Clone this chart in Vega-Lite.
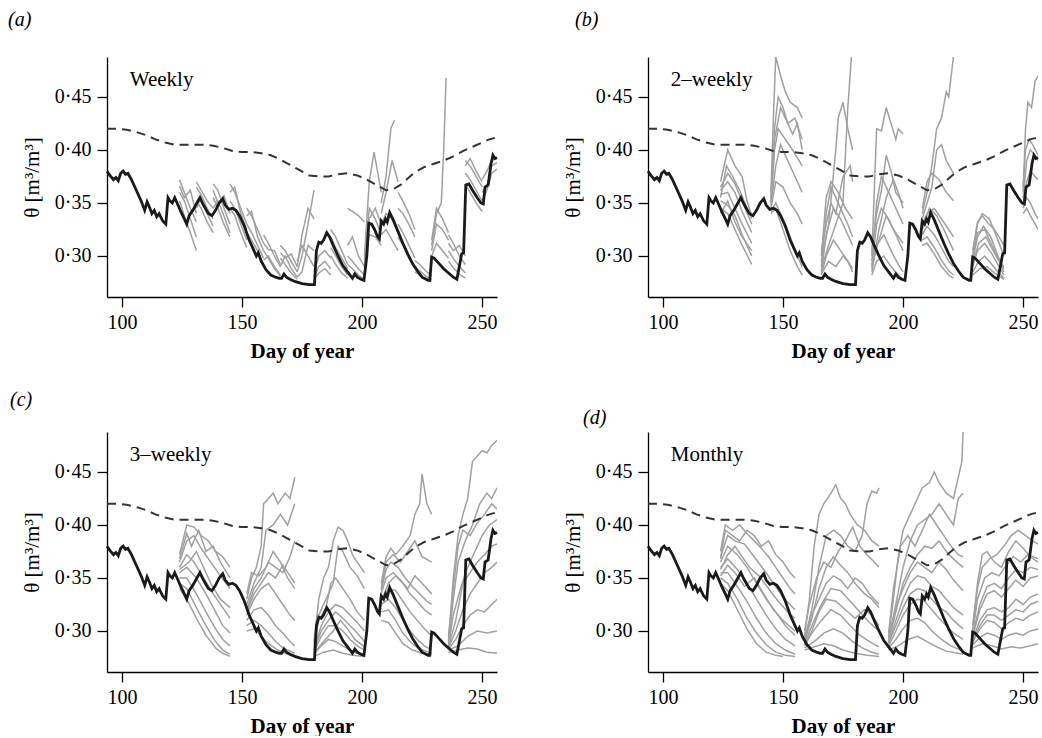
{
"$schema": "https://vega.github.io/schema/vega-lite/v6.json",
"padding": {"left": 8, "top": 10, "right": 0, "bottom": 0},
"bounds": "flush",
"columns": 2,
"spacing": {"row": 135, "column": 151},
"config": {
  "view": {"stroke": null},
  "font": "Liberation Serif",
  "axis": {"domainColor": "black", "domainWidth": 1.3, "tickColor": "black", "tickWidth": 1.3, "tickSize": 10, "labelFont": "Liberation Serif", "labelFontSize": 20, "labelColor": "black", "titleFont": "Liberation Serif", "titleColor": "black", "grid": false, "labelFlush": false},
  "axisX": {"titleFontSize": 21, "titleFontWeight": "bold", "titlePadding": 8, "labelPadding": 5},
  "axisY": {"titleFontSize": 21, "titleFontWeight": "normal", "titlePadding": 12, "labelPadding": 6},
  "title": {"anchor": "start", "frame": "group", "font": "Liberation Serif", "fontSize": 20, "fontStyle": "italic", "fontWeight": "normal", "color": "black"}
},
"datasets": {
"lab": [{"p":"a","d":103.3,"v":0.4604,"t":"Weekly"},{"p":"b","d":103.3,"v":0.4604,"t":"2–weekly"},{"p":"c","d":103.3,"v":0.4604,"t":"3–weekly"},{"p":"d","d":103.3,"v":0.4604,"t":"Monthly"}],
"obs": [{"d":93.8,"v":0.380},{"d":95,"v":0.376},{"d":96.5,"v":0.372},{"d":97.5,"v":0.374},{"d":98.5,"v":0.371},{"d":99.5,"v":0.378},{"d":100.5,"v":0.380},{"d":101.5,"v":0.377},{"d":102.5,"v":0.378},{"d":104,"v":0.372},{"d":106,"v":0.362},{"d":108,"v":0.352},{"d":109.5,"v":0.343},{"d":110.5,"v":0.351},{"d":111.5,"v":0.346},{"d":112.5,"v":0.340},{"d":113.5,"v":0.343},{"d":114.5,"v":0.337},{"d":115.5,"v":0.340},{"d":117,"v":0.333},{"d":118.3,"v":0.330},{"d":119.2,"v":0.355},{"d":120,"v":0.352},{"d":121,"v":0.350},{"d":122,"v":0.355},{"d":123,"v":0.350},{"d":124.5,"v":0.342},{"d":126,"v":0.335},{"d":127,"v":0.330},{"d":128,"v":0.338},{"d":129.5,"v":0.343},{"d":131,"v":0.349},{"d":132.5,"v":0.355},{"d":133.5,"v":0.350},{"d":134.5,"v":0.346},{"d":136,"v":0.340},{"d":137.5,"v":0.338},{"d":139,"v":0.343},{"d":140.5,"v":0.350},{"d":142,"v":0.354},{"d":143,"v":0.348},{"d":144.5,"v":0.344},{"d":146,"v":0.345},{"d":147.5,"v":0.343},{"d":149,"v":0.338},{"d":151,"v":0.328},{"d":153,"v":0.315},{"d":155,"v":0.305},{"d":156,"v":0.300},{"d":156.8,"v":0.303},{"d":158,"v":0.295},{"d":160,"v":0.287},{"d":162,"v":0.282},{"d":164,"v":0.280},{"d":165.5,"v":0.279},{"d":166.5,"v":0.279},{"d":167.5,"v":0.283},{"d":168.5,"v":0.280},{"d":170,"v":0.278},{"d":172,"v":0.276},{"d":175,"v":0.274},{"d":178,"v":0.273},{"d":180.2,"v":0.273},{"d":181,"v":0.305},{"d":182,"v":0.313},{"d":183,"v":0.312},{"d":184,"v":0.315},{"d":185.3,"v":0.322},{"d":186.5,"v":0.318},{"d":188,"v":0.310},{"d":190,"v":0.300},{"d":192,"v":0.291},{"d":194,"v":0.285},{"d":196,"v":0.279},{"d":197,"v":0.283},{"d":198,"v":0.280},{"d":199.5,"v":0.278},{"d":200.8,"v":0.277},{"d":202,"v":0.300},{"d":202.8,"v":0.331},{"d":204,"v":0.330},{"d":205.2,"v":0.325},{"d":206.5,"v":0.318},{"d":207.2,"v":0.316},{"d":208,"v":0.333},{"d":209,"v":0.330},{"d":209.8,"v":0.335},{"d":210.5,"v":0.332},{"d":211.5,"v":0.341},{"d":213,"v":0.334},{"d":215,"v":0.323},{"d":217,"v":0.312},{"d":219,"v":0.302},{"d":221,"v":0.293},{"d":223,"v":0.286},{"d":225,"v":0.280},{"d":227.5,"v":0.277},{"d":228.2,"v":0.277},{"d":229,"v":0.299},{"d":230,"v":0.298},{"d":232,"v":0.293},{"d":234,"v":0.288},{"d":236,"v":0.284},{"d":238,"v":0.280},{"d":239.5,"v":0.278},{"d":240.5,"v":0.290},{"d":241.5,"v":0.302},{"d":242.3,"v":0.303},{"d":243.2,"v":0.367},{"d":244.5,"v":0.368},{"d":246,"v":0.362},{"d":248,"v":0.355},{"d":249.5,"v":0.350},{"d":250.5,"v":0.349},{"d":251.2,"v":0.365},{"d":252.5,"v":0.367},{"d":253,"v":0.375},{"d":253.7,"v":0.387},{"d":254.5,"v":0.395},{"d":255.3,"v":0.392},{"d":256.2,"v":0.393}],
"sat": [{"d":93.8,"v":0.420},{"d":98,"v":0.420},{"d":102,"v":0.419},{"d":106,"v":0.417},{"d":110,"v":0.414},{"d":114,"v":0.410},{"d":118,"v":0.407},{"d":122,"v":0.405},{"d":126,"v":0.405},{"d":130,"v":0.405},{"d":134,"v":0.405},{"d":138,"v":0.404},{"d":142,"v":0.402},{"d":146,"v":0.399},{"d":150,"v":0.398},{"d":154,"v":0.398},{"d":158,"v":0.397},{"d":162,"v":0.395},{"d":166,"v":0.391},{"d":170,"v":0.386},{"d":174,"v":0.381},{"d":178,"v":0.376},{"d":182,"v":0.375},{"d":186,"v":0.375},{"d":190,"v":0.377},{"d":194,"v":0.378},{"d":198,"v":0.376},{"d":202,"v":0.372},{"d":206,"v":0.367},{"d":210,"v":0.362},{"d":213,"v":0.363},{"d":216,"v":0.367},{"d":219,"v":0.373},{"d":222,"v":0.379},{"d":226,"v":0.384},{"d":230,"v":0.387},{"d":234,"v":0.390},{"d":238,"v":0.394},{"d":242,"v":0.399},{"d":246,"v":0.403},{"d":250,"v":0.407},{"d":253,"v":0.410},{"d":256.2,"v":0.412}],
"ens": [
{"g":"a1-1","d":124,"v":0.372},{"g":"a1-1","d":126,"v":0.360},{"g":"a1-1","d":128.5,"v":0.345},{"g":"a1-1","d":131,"v":0.332},
{"g":"a1-2","d":124,"v":0.360},{"g":"a1-2","d":126,"v":0.352},{"g":"a1-2","d":128.5,"v":0.335},{"g":"a1-2","d":131,"v":0.318},
{"g":"a1-3","d":124,"v":0.352},{"g":"a1-3","d":126,"v":0.338},{"g":"a1-3","d":128.5,"v":0.322},{"g":"a1-3","d":131,"v":0.305},
{"g":"a1-4","d":124,"v":0.366},{"g":"a1-4","d":126,"v":0.355},{"g":"a1-4","d":128.5,"v":0.362},{"g":"a1-4","d":131,"v":0.340},
{"g":"a2-1","d":131,"v":0.365},{"g":"a2-1","d":133,"v":0.358},{"g":"a2-1","d":135.5,"v":0.345},{"g":"a2-1","d":138,"v":0.335},
{"g":"a2-2","d":131,"v":0.352},{"g":"a2-2","d":133,"v":0.345},{"g":"a2-2","d":135.5,"v":0.332},{"g":"a2-2","d":138,"v":0.322},
{"g":"a2-3","d":131,"v":0.345},{"g":"a2-3","d":133,"v":0.355},{"g":"a2-3","d":135.5,"v":0.340},{"g":"a2-3","d":138,"v":0.328},
{"g":"a2-4","d":131,"v":0.370},{"g":"a2-4","d":133,"v":0.362},{"g":"a2-4","d":135.5,"v":0.352},{"g":"a2-4","d":138,"v":0.345},
{"g":"a3-1","d":138,"v":0.368},{"g":"a3-1","d":140,"v":0.362},{"g":"a3-1","d":142.5,"v":0.345},{"g":"a3-1","d":145,"v":0.330},
{"g":"a3-2","d":138,"v":0.355},{"g":"a3-2","d":140,"v":0.345},{"g":"a3-2","d":142.5,"v":0.330},{"g":"a3-2","d":145,"v":0.318},
{"g":"a3-3","d":138,"v":0.345},{"g":"a3-3","d":140,"v":0.352},{"g":"a3-3","d":142.5,"v":0.338},{"g":"a3-3","d":145,"v":0.322},
{"g":"a3-4","d":138,"v":0.362},{"g":"a3-4","d":140,"v":0.350},{"g":"a3-4","d":142.5,"v":0.357},{"g":"a3-4","d":145,"v":0.340},
{"g":"a4-1","d":145,"v":0.368},{"g":"a4-1","d":147,"v":0.360},{"g":"a4-1","d":149.5,"v":0.345},{"g":"a4-1","d":152,"v":0.330},
{"g":"a4-2","d":145,"v":0.352},{"g":"a4-2","d":147,"v":0.345},{"g":"a4-2","d":149.5,"v":0.330},{"g":"a4-2","d":152,"v":0.315},
{"g":"a4-3","d":145,"v":0.345},{"g":"a4-3","d":147,"v":0.338},{"g":"a4-3","d":149.5,"v":0.322},{"g":"a4-3","d":152,"v":0.308},
{"g":"a4-4","d":145,"v":0.360},{"g":"a4-4","d":147,"v":0.365},{"g":"a4-4","d":149.5,"v":0.340},{"g":"a4-4","d":152,"v":0.325},
{"g":"a5-1","d":152,"v":0.345},{"g":"a5-1","d":154,"v":0.338},{"g":"a5-1","d":156.5,"v":0.325},{"g":"a5-1","d":159,"v":0.312},
{"g":"a5-2","d":152,"v":0.330},{"g":"a5-2","d":154,"v":0.322},{"g":"a5-2","d":156.5,"v":0.310},{"g":"a5-2","d":159,"v":0.298},
{"g":"a5-3","d":152,"v":0.322},{"g":"a5-3","d":154,"v":0.315},{"g":"a5-3","d":156.5,"v":0.305},{"g":"a5-3","d":159,"v":0.292},
{"g":"a5-4","d":152,"v":0.338},{"g":"a5-4","d":154,"v":0.342},{"g":"a5-4","d":156.5,"v":0.318},{"g":"a5-4","d":159,"v":0.305},
{"g":"a6-1","d":159,"v":0.320},{"g":"a6-1","d":161,"v":0.312},{"g":"a6-1","d":163.5,"v":0.300},{"g":"a6-1","d":166,"v":0.290},
{"g":"a6-2","d":159,"v":0.305},{"g":"a6-2","d":161,"v":0.298},{"g":"a6-2","d":163.5,"v":0.288},{"g":"a6-2","d":166,"v":0.281},
{"g":"a6-3","d":159,"v":0.296},{"g":"a6-3","d":161,"v":0.300},{"g":"a6-3","d":163.5,"v":0.290},{"g":"a6-3","d":166,"v":0.282},
{"g":"a6-4","d":159,"v":0.312},{"g":"a6-4","d":161,"v":0.306},{"g":"a6-4","d":163.5,"v":0.305},{"g":"a6-4","d":166,"v":0.292},
{"g":"a7-1","d":166,"v":0.310},{"g":"a7-1","d":168,"v":0.305},{"g":"a7-1","d":170.5,"v":0.295},{"g":"a7-1","d":173,"v":0.285},
{"g":"a7-2","d":166,"v":0.298},{"g":"a7-2","d":168,"v":0.292},{"g":"a7-2","d":170.5,"v":0.284},{"g":"a7-2","d":173,"v":0.278},
{"g":"a7-3","d":166,"v":0.290},{"g":"a7-3","d":168,"v":0.300},{"g":"a7-3","d":170.5,"v":0.288},{"g":"a7-3","d":173,"v":0.280},
{"g":"a7-4","d":166,"v":0.303},{"g":"a7-4","d":168,"v":0.298},{"g":"a7-4","d":170.5,"v":0.302},{"g":"a7-4","d":173,"v":0.290},
{"g":"a8-1","d":173,"v":0.285},{"g":"a8-1","d":175,"v":0.300},{"g":"a8-1","d":177.5,"v":0.330},{"g":"a8-1","d":180,"v":0.362},
{"g":"a8-2","d":173,"v":0.290},{"g":"a8-2","d":175,"v":0.320},{"g":"a8-2","d":177.5,"v":0.345},{"g":"a8-2","d":180,"v":0.335},
{"g":"a8-3","d":173,"v":0.280},{"g":"a8-3","d":175,"v":0.285},{"g":"a8-3","d":177.5,"v":0.310},{"g":"a8-3","d":180,"v":0.305},
{"g":"a8-4","d":173,"v":0.295},{"g":"a8-4","d":175,"v":0.310},{"g":"a8-4","d":177.5,"v":0.300},{"g":"a8-4","d":180,"v":0.290},
{"g":"a9-1","d":180,"v":0.285},{"g":"a9-1","d":182,"v":0.300},{"g":"a9-1","d":184.5,"v":0.305},{"g":"a9-1","d":187,"v":0.298},
{"g":"a9-2","d":180,"v":0.280},{"g":"a9-2","d":182,"v":0.290},{"g":"a9-2","d":184.5,"v":0.295},{"g":"a9-2","d":187,"v":0.288},
{"g":"a9-3","d":180,"v":0.278},{"g":"a9-3","d":182,"v":0.284},{"g":"a9-3","d":184.5,"v":0.288},{"g":"a9-3","d":187,"v":0.282},
{"g":"a10-1","d":187,"v":0.318},{"g":"a10-1","d":189,"v":0.308},{"g":"a10-1","d":191.5,"v":0.298},{"g":"a10-1","d":194,"v":0.288},
{"g":"a10-2","d":187,"v":0.308},{"g":"a10-2","d":189,"v":0.300},{"g":"a10-2","d":191.5,"v":0.290},{"g":"a10-2","d":194,"v":0.282},
{"g":"a10-3","d":187,"v":0.300},{"g":"a10-3","d":189,"v":0.292},{"g":"a10-3","d":191.5,"v":0.284},{"g":"a10-3","d":194,"v":0.279},
{"g":"a10-4","d":187,"v":0.325},{"g":"a10-4","d":189,"v":0.318},{"g":"a10-4","d":191.5,"v":0.305},{"g":"a10-4","d":194,"v":0.292},
{"g":"a11-1","d":194,"v":0.345},{"g":"a11-1","d":196,"v":0.342},{"g":"a11-1","d":198.5,"v":0.338},{"g":"a11-1","d":201,"v":0.332},
{"g":"a11-2","d":194,"v":0.300},{"g":"a11-2","d":196,"v":0.295},{"g":"a11-2","d":198.5,"v":0.288},{"g":"a11-2","d":201,"v":0.282},
{"g":"a11-3","d":194,"v":0.292},{"g":"a11-3","d":196,"v":0.288},{"g":"a11-3","d":198.5,"v":0.282},{"g":"a11-3","d":201,"v":0.278},
{"g":"a11-4","d":194,"v":0.310},{"g":"a11-4","d":196,"v":0.318},{"g":"a11-4","d":198.5,"v":0.300},{"g":"a11-4","d":201,"v":0.290},
{"g":"a12-1","d":201,"v":0.300},{"g":"a12-1","d":203,"v":0.370},{"g":"a12-1","d":205,"v":0.398},{"g":"a12-1","d":208,"v":0.360},
{"g":"a12-2","d":201,"v":0.290},{"g":"a12-2","d":203,"v":0.335},{"g":"a12-2","d":205.5,"v":0.345},{"g":"a12-2","d":208,"v":0.330},
{"g":"a12-3","d":201,"v":0.285},{"g":"a12-3","d":203,"v":0.320},{"g":"a12-3","d":205.5,"v":0.318},{"g":"a12-3","d":208,"v":0.310},
{"g":"a12-4","d":201,"v":0.295},{"g":"a12-4","d":203,"v":0.345},{"g":"a12-4","d":205.5,"v":0.335},{"g":"a12-4","d":208,"v":0.320},
{"g":"a13-1","d":208,"v":0.350},{"g":"a13-1","d":210,"v":0.375},{"g":"a13-1","d":212,"v":0.420},{"g":"a13-1","d":213.5,"v":0.428},
{"g":"a13-2","d":208,"v":0.340},{"g":"a13-2","d":210,"v":0.360},{"g":"a13-2","d":212.5,"v":0.390},{"g":"a13-2","d":215,"v":0.370},
{"g":"a13-3","d":208,"v":0.330},{"g":"a13-3","d":210,"v":0.340},{"g":"a13-3","d":212.5,"v":0.335},{"g":"a13-3","d":215,"v":0.322},
{"g":"a13-4","d":208,"v":0.320},{"g":"a13-4","d":210,"v":0.325},{"g":"a13-4","d":212.5,"v":0.315},{"g":"a13-4","d":215,"v":0.305},
{"g":"a14-1","d":215,"v":0.345},{"g":"a14-1","d":217,"v":0.340},{"g":"a14-1","d":219.5,"v":0.330},{"g":"a14-1","d":222,"v":0.318},
{"g":"a14-2","d":215,"v":0.330},{"g":"a14-2","d":217,"v":0.322},{"g":"a14-2","d":219.5,"v":0.310},{"g":"a14-2","d":222,"v":0.298},
{"g":"a14-3","d":215,"v":0.318},{"g":"a14-3","d":217,"v":0.310},{"g":"a14-3","d":219.5,"v":0.298},{"g":"a14-3","d":222,"v":0.288},
{"g":"a14-4","d":215,"v":0.360},{"g":"a14-4","d":217,"v":0.352},{"g":"a14-4","d":219.5,"v":0.340},{"g":"a14-4","d":222,"v":0.325},
{"g":"a15-1","d":222,"v":0.296},{"g":"a15-1","d":224,"v":0.292},{"g":"a15-1","d":226.5,"v":0.286},{"g":"a15-1","d":229,"v":0.281},
{"g":"a15-2","d":222,"v":0.290},{"g":"a15-2","d":224,"v":0.286},{"g":"a15-2","d":226.5,"v":0.281},{"g":"a15-2","d":229,"v":0.278},
{"g":"a15-3","d":222,"v":0.285},{"g":"a15-3","d":224,"v":0.282},{"g":"a15-3","d":226.5,"v":0.278},{"g":"a15-3","d":229,"v":0.276},
{"g":"a16-1","d":229,"v":0.310},{"g":"a16-1","d":231,"v":0.340},{"g":"a16-1","d":233,"v":0.350},{"g":"a16-1","d":234,"v":0.400},{"g":"a16-1","d":235,"v":0.468},
{"g":"a16-2","d":229,"v":0.305},{"g":"a16-2","d":231,"v":0.330},{"g":"a16-2","d":233.5,"v":0.325},{"g":"a16-2","d":236,"v":0.315},
{"g":"a16-3","d":229,"v":0.300},{"g":"a16-3","d":231,"v":0.312},{"g":"a16-3","d":233.5,"v":0.305},{"g":"a16-3","d":236,"v":0.298},
{"g":"a16-4","d":229,"v":0.315},{"g":"a16-4","d":231,"v":0.345},{"g":"a16-4","d":233.5,"v":0.335},{"g":"a16-4","d":236,"v":0.322},
{"g":"a17-1","d":236,"v":0.320},{"g":"a17-1","d":238,"v":0.312},{"g":"a17-1","d":240.5,"v":0.300},{"g":"a17-1","d":243,"v":0.292},
{"g":"a17-2","d":236,"v":0.305},{"g":"a17-2","d":238,"v":0.298},{"g":"a17-2","d":240.5,"v":0.290},{"g":"a17-2","d":243,"v":0.284},
{"g":"a17-3","d":236,"v":0.295},{"g":"a17-3","d":238,"v":0.289},{"g":"a17-3","d":240.5,"v":0.283},{"g":"a17-3","d":243,"v":0.279},
{"g":"a17-4","d":236,"v":0.312},{"g":"a17-4","d":238,"v":0.305},{"g":"a17-4","d":240.5,"v":0.310},{"g":"a17-4","d":243,"v":0.300},
{"g":"a18-1","d":243,"v":0.390},{"g":"a18-1","d":245,"v":0.385},{"g":"a18-1","d":247.5,"v":0.375},{"g":"a18-1","d":250,"v":0.365},
{"g":"a18-2","d":243,"v":0.378},{"g":"a18-2","d":245,"v":0.372},{"g":"a18-2","d":247.5,"v":0.362},{"g":"a18-2","d":250,"v":0.352},
{"g":"a18-3","d":243,"v":0.368},{"g":"a18-3","d":245,"v":0.360},{"g":"a18-3","d":247.5,"v":0.350},{"g":"a18-3","d":250,"v":0.342},
{"g":"a18-4","d":243,"v":0.385},{"g":"a18-4","d":245,"v":0.392},{"g":"a18-4","d":247.5,"v":0.380},{"g":"a18-4","d":250,"v":0.370},
{"g":"a19-1","d":250,"v":0.372},{"g":"a19-1","d":252,"v":0.380},{"g":"a19-1","d":254,"v":0.390},{"g":"a19-1","d":256.2,"v":0.392},
{"g":"a19-2","d":250,"v":0.360},{"g":"a19-2","d":252,"v":0.366},{"g":"a19-2","d":254,"v":0.385},{"g":"a19-2","d":256.2,"v":0.388},
{"g":"a19-3","d":250,"v":0.352},{"g":"a19-3","d":252,"v":0.362},{"g":"a19-3","d":254,"v":0.378},{"g":"a19-3","d":256.2,"v":0.382},

{"g":"b1-1","d":124,"v":0.370},{"g":"b1-1","d":127,"v":0.400},{"g":"b1-1","d":130,"v":0.385},{"g":"b1-1","d":133,"v":0.375},{"g":"b1-1","d":135,"v":0.352},{"g":"b1-1","d":137,"v":0.338},
{"g":"b1-2","d":124,"v":0.365},{"g":"b1-2","d":127,"v":0.378},{"g":"b1-2","d":130,"v":0.368},{"g":"b1-2","d":133,"v":0.352},{"g":"b1-2","d":137,"v":0.330},
{"g":"b1-3","d":124,"v":0.358},{"g":"b1-3","d":127,"v":0.360},{"g":"b1-3","d":130,"v":0.345},{"g":"b1-3","d":133,"v":0.330},{"g":"b1-3","d":137,"v":0.312},
{"g":"b1-4","d":124,"v":0.352},{"g":"b1-4","d":127,"v":0.348},{"g":"b1-4","d":130,"v":0.338},{"g":"b1-4","d":133,"v":0.320},{"g":"b1-4","d":137,"v":0.300},
{"g":"b1-5","d":124,"v":0.345},{"g":"b1-5","d":127,"v":0.340},{"g":"b1-5","d":130,"v":0.325},{"g":"b1-5","d":133,"v":0.310},{"g":"b1-5","d":137,"v":0.292},
{"g":"b1-6","d":124,"v":0.362},{"g":"b1-6","d":127,"v":0.370},{"g":"b1-6","d":130,"v":0.360},{"g":"b1-6","d":133,"v":0.342},{"g":"b1-6","d":137,"v":0.322},
{"g":"b1-7","d":124,"v":0.340},{"g":"b1-7","d":127,"v":0.352},{"g":"b1-7","d":130,"v":0.332},{"g":"b1-7","d":133,"v":0.318},{"g":"b1-7","d":137,"v":0.305},
{"g":"b1-8","d":124,"v":0.355},{"g":"b1-8","d":126.5,"v":0.385},{"g":"b1-8","d":129,"v":0.375},{"g":"b1-8","d":132,"v":0.362},{"g":"b1-8","d":135,"v":0.345},{"g":"b1-8","d":137,"v":0.335},
{"g":"b2-1","d":145,"v":0.360},{"g":"b2-1","d":146,"v":0.430},{"g":"b2-1","d":147,"v":0.488},{"g":"b2-1","d":149,"v":0.470},{"g":"b2-1","d":151,"v":0.455},{"g":"b2-1","d":153,"v":0.445},{"g":"b2-1","d":156,"v":0.440},{"g":"b2-1","d":158,"v":0.430},
{"g":"b2-2","d":145,"v":0.355},{"g":"b2-2","d":146.5,"v":0.420},{"g":"b2-2","d":148,"v":0.450},{"g":"b2-2","d":150,"v":0.440},{"g":"b2-2","d":152,"v":0.425},{"g":"b2-2","d":155,"v":0.430},{"g":"b2-2","d":158,"v":0.410},
{"g":"b2-3","d":145,"v":0.350},{"g":"b2-3","d":146.5,"v":0.400},{"g":"b2-3","d":148,"v":0.420},{"g":"b2-3","d":151,"v":0.410},{"g":"b2-3","d":154,"v":0.400},{"g":"b2-3","d":158,"v":0.385},
{"g":"b2-4","d":145,"v":0.348},{"g":"b2-4","d":147,"v":0.385},{"g":"b2-4","d":149,"v":0.405},{"g":"b2-4","d":152,"v":0.390},{"g":"b2-4","d":155,"v":0.375},{"g":"b2-4","d":158,"v":0.360},
{"g":"b2-5","d":145,"v":0.345},{"g":"b2-5","d":147,"v":0.370},{"g":"b2-5","d":150,"v":0.365},{"g":"b2-5","d":153,"v":0.350},{"g":"b2-5","d":156,"v":0.340},{"g":"b2-5","d":158,"v":0.330},
{"g":"b2-6","d":145,"v":0.342},{"g":"b2-6","d":147,"v":0.350},{"g":"b2-6","d":150,"v":0.335},{"g":"b2-6","d":153,"v":0.318},{"g":"b2-6","d":156,"v":0.300},{"g":"b2-6","d":158,"v":0.290},
{"g":"b2-7","d":145,"v":0.340},{"g":"b2-7","d":147,"v":0.345},{"g":"b2-7","d":150,"v":0.325},{"g":"b2-7","d":153,"v":0.305},{"g":"b2-7","d":156,"v":0.290},{"g":"b2-7","d":158,"v":0.282},
{"g":"b2-8","d":145,"v":0.352},{"g":"b2-8","d":146.5,"v":0.410},{"g":"b2-8","d":149,"v":0.440},{"g":"b2-8","d":151,"v":0.430},{"g":"b2-8","d":154,"v":0.415},{"g":"b2-8","d":156,"v":0.425},{"g":"b2-8","d":158,"v":0.400},
{"g":"b3-1","d":166,"v":0.290},{"g":"b3-1","d":168,"v":0.340},{"g":"b3-1","d":170,"v":0.365},{"g":"b3-1","d":172,"v":0.355},{"g":"b3-1","d":175,"v":0.340},{"g":"b3-1","d":177,"v":0.330},{"g":"b3-1","d":179,"v":0.318},
{"g":"b3-2","d":166,"v":0.285},{"g":"b3-2","d":168,"v":0.320},{"g":"b3-2","d":171,"v":0.345},{"g":"b3-2","d":174,"v":0.335},{"g":"b3-2","d":177,"v":0.320},{"g":"b3-2","d":179,"v":0.310},
{"g":"b3-3","d":166,"v":0.282},{"g":"b3-3","d":168,"v":0.300},{"g":"b3-3","d":171,"v":0.315},{"g":"b3-3","d":174,"v":0.305},{"g":"b3-3","d":177,"v":0.295},{"g":"b3-3","d":179,"v":0.288},
{"g":"b3-4","d":166,"v":0.300},{"g":"b3-4","d":168,"v":0.355},{"g":"b3-4","d":170,"v":0.370},{"g":"b3-4","d":173,"v":0.360},{"g":"b3-4","d":176,"v":0.345},{"g":"b3-4","d":179,"v":0.335},
{"g":"b3-5","d":166,"v":0.295},{"g":"b3-5","d":169,"v":0.330},{"g":"b3-5","d":172,"v":0.400},{"g":"b3-5","d":173,"v":0.430},{"g":"b3-5","d":175,"v":0.445},{"g":"b3-5","d":177,"v":0.420},{"g":"b3-5","d":179,"v":0.400},
{"g":"b3-6","d":166,"v":0.288},{"g":"b3-6","d":169,"v":0.310},{"g":"b3-6","d":172,"v":0.330},{"g":"b3-6","d":175,"v":0.350},{"g":"b3-6","d":177,"v":0.440},{"g":"b3-6","d":178.5,"v":0.488},
{"g":"b3-7","d":166,"v":0.283},{"g":"b3-7","d":169,"v":0.295},{"g":"b3-7","d":172,"v":0.290},{"g":"b3-7","d":175,"v":0.300},{"g":"b3-7","d":177,"v":0.295},{"g":"b3-7","d":179,"v":0.285},
{"g":"b3-8","d":166,"v":0.305},{"g":"b3-8","d":168,"v":0.330},{"g":"b3-8","d":170,"v":0.350},{"g":"b3-8","d":172,"v":0.340},{"g":"b3-8","d":175,"v":0.375},{"g":"b3-8","d":178,"v":0.385},{"g":"b3-8","d":179,"v":0.370},
{"g":"b4-1","d":187,"v":0.300},{"g":"b4-1","d":188,"v":0.360},{"g":"b4-1","d":189,"v":0.420},{"g":"b4-1","d":191,"v":0.418},{"g":"b4-1","d":193,"v":0.440},{"g":"b4-1","d":195,"v":0.425},{"g":"b4-1","d":197,"v":0.410},{"g":"b4-1","d":198,"v":0.420},{"g":"b4-1","d":200,"v":0.415},
{"g":"b4-2","d":187,"v":0.295},{"g":"b4-2","d":189,"v":0.350},{"g":"b4-2","d":191,"v":0.375},{"g":"b4-2","d":193,"v":0.365},{"g":"b4-2","d":196,"v":0.350},{"g":"b4-2","d":198,"v":0.340},{"g":"b4-2","d":200,"v":0.330},
{"g":"b4-3","d":187,"v":0.290},{"g":"b4-3","d":189,"v":0.330},{"g":"b4-3","d":191,"v":0.345},{"g":"b4-3","d":194,"v":0.335},{"g":"b4-3","d":197,"v":0.320},{"g":"b4-3","d":200,"v":0.305},
{"g":"b4-4","d":187,"v":0.285},{"g":"b4-4","d":189,"v":0.310},{"g":"b4-4","d":192,"v":0.320},{"g":"b4-4","d":195,"v":0.305},{"g":"b4-4","d":198,"v":0.292},{"g":"b4-4","d":200,"v":0.285},
{"g":"b4-5","d":187,"v":0.282},{"g":"b4-5","d":189,"v":0.295},{"g":"b4-5","d":192,"v":0.300},{"g":"b4-5","d":195,"v":0.290},{"g":"b4-5","d":198,"v":0.282},{"g":"b4-5","d":200,"v":0.278},
{"g":"b4-6","d":187,"v":0.305},{"g":"b4-6","d":189,"v":0.340},{"g":"b4-6","d":191,"v":0.362},{"g":"b4-6","d":193,"v":0.395},{"g":"b4-6","d":195,"v":0.380},{"g":"b4-6","d":197,"v":0.360},{"g":"b4-6","d":200,"v":0.350},
{"g":"b4-7","d":187,"v":0.288},{"g":"b4-7","d":190,"v":0.325},{"g":"b4-7","d":193,"v":0.355},{"g":"b4-7","d":196,"v":0.372},{"g":"b4-7","d":198,"v":0.360},{"g":"b4-7","d":200,"v":0.345},
{"g":"b4-8","d":187,"v":0.292},{"g":"b4-8","d":190,"v":0.315},{"g":"b4-8","d":193,"v":0.338},{"g":"b4-8","d":196,"v":0.325},{"g":"b4-8","d":200,"v":0.312},
{"g":"b5-1","d":208,"v":0.340},{"g":"b5-1","d":210,"v":0.360},{"g":"b5-1","d":212,"v":0.385},{"g":"b5-1","d":214,"v":0.420},{"g":"b5-1","d":216,"v":0.430},{"g":"b5-1","d":218,"v":0.455},{"g":"b5-1","d":219,"v":0.450},{"g":"b5-1","d":221,"v":0.488},
{"g":"b5-2","d":208,"v":0.335},{"g":"b5-2","d":210,"v":0.350},{"g":"b5-2","d":212,"v":0.365},{"g":"b5-2","d":214,"v":0.400},{"g":"b5-2","d":216,"v":0.405},{"g":"b5-2","d":218,"v":0.390},{"g":"b5-2","d":221,"v":0.378},
{"g":"b5-3","d":208,"v":0.330},{"g":"b5-3","d":210,"v":0.340},{"g":"b5-3","d":213,"v":0.345},{"g":"b5-3","d":216,"v":0.335},{"g":"b5-3","d":219,"v":0.325},{"g":"b5-3","d":221,"v":0.318},
{"g":"b5-4","d":208,"v":0.320},{"g":"b5-4","d":210,"v":0.328},{"g":"b5-4","d":213,"v":0.320},{"g":"b5-4","d":216,"v":0.308},{"g":"b5-4","d":219,"v":0.295},{"g":"b5-4","d":221,"v":0.290},
{"g":"b5-5","d":208,"v":0.315},{"g":"b5-5","d":210,"v":0.318},{"g":"b5-5","d":213,"v":0.308},{"g":"b5-5","d":216,"v":0.296},{"g":"b5-5","d":219,"v":0.286},{"g":"b5-5","d":221,"v":0.282},
{"g":"b5-6","d":208,"v":0.310},{"g":"b5-6","d":210,"v":0.312},{"g":"b5-6","d":213,"v":0.302},{"g":"b5-6","d":216,"v":0.290},{"g":"b5-6","d":219,"v":0.282},{"g":"b5-6","d":221,"v":0.279},
{"g":"b5-7","d":208,"v":0.345},{"g":"b5-7","d":210,"v":0.370},{"g":"b5-7","d":212,"v":0.378},{"g":"b5-7","d":215,"v":0.372},{"g":"b5-7","d":218,"v":0.360},{"g":"b5-7","d":221,"v":0.352},
{"g":"b5-8","d":208,"v":0.325},{"g":"b5-8","d":211,"v":0.345},{"g":"b5-8","d":214,"v":0.338},{"g":"b5-8","d":217,"v":0.325},{"g":"b5-8","d":219,"v":0.315},{"g":"b5-8","d":221,"v":0.305},
{"g":"b6-1","d":229,"v":0.300},{"g":"b6-1","d":231,"v":0.330},{"g":"b6-1","d":233,"v":0.340},{"g":"b6-1","d":236,"v":0.335},{"g":"b6-1","d":239,"v":0.318},{"g":"b6-1","d":242,"v":0.300},
{"g":"b6-2","d":229,"v":0.295},{"g":"b6-2","d":231,"v":0.318},{"g":"b6-2","d":233.5,"v":0.328},{"g":"b6-2","d":236.5,"v":0.318},{"g":"b6-2","d":239.5,"v":0.300},{"g":"b6-2","d":242,"v":0.288},
{"g":"b6-3","d":229,"v":0.290},{"g":"b6-3","d":231,"v":0.305},{"g":"b6-3","d":234,"v":0.312},{"g":"b6-3","d":237,"v":0.302},{"g":"b6-3","d":240,"v":0.290},{"g":"b6-3","d":242,"v":0.282},
{"g":"b6-4","d":229,"v":0.285},{"g":"b6-4","d":231.5,"v":0.295},{"g":"b6-4","d":234,"v":0.300},{"g":"b6-4","d":237,"v":0.292},{"g":"b6-4","d":240,"v":0.284},{"g":"b6-4","d":242,"v":0.279},
{"g":"b6-5","d":229,"v":0.305},{"g":"b6-5","d":231,"v":0.332},{"g":"b6-5","d":233,"v":0.338},{"g":"b6-5","d":235,"v":0.332},{"g":"b6-5","d":238,"v":0.325},{"g":"b6-5","d":240,"v":0.318},{"g":"b6-5","d":242,"v":0.310},
{"g":"b6-6","d":229,"v":0.282},{"g":"b6-6","d":232,"v":0.288},{"g":"b6-6","d":235,"v":0.290},{"g":"b6-6","d":238,"v":0.284},{"g":"b6-6","d":242,"v":0.278},
{"g":"b6-7","d":229,"v":0.298},{"g":"b6-7","d":231,"v":0.322},{"g":"b6-7","d":234,"v":0.325},{"g":"b6-7","d":237,"v":0.310},{"g":"b6-7","d":240,"v":0.296},{"g":"b6-7","d":242,"v":0.290},
{"g":"b6-8","d":229,"v":0.292},{"g":"b6-8","d":231.5,"v":0.312},{"g":"b6-8","d":234.5,"v":0.318},{"g":"b6-8","d":237.5,"v":0.305},{"g":"b6-8","d":240,"v":0.295},{"g":"b6-8","d":242,"v":0.285},
{"g":"b7-1","d":250,"v":0.360},{"g":"b7-1","d":251,"v":0.420},{"g":"b7-1","d":252,"v":0.445},{"g":"b7-1","d":253.5,"v":0.440},{"g":"b7-1","d":255,"v":0.465},{"g":"b7-1","d":256.2,"v":0.470},
{"g":"b7-2","d":250,"v":0.355},{"g":"b7-2","d":251.5,"v":0.390},{"g":"b7-2","d":253,"v":0.400},{"g":"b7-2","d":255,"v":0.395},{"g":"b7-2","d":256.2,"v":0.390},
{"g":"b7-3","d":250,"v":0.350},{"g":"b7-3","d":251.5,"v":0.370},{"g":"b7-3","d":253,"v":0.380},{"g":"b7-3","d":255,"v":0.375},{"g":"b7-3","d":256.2,"v":0.372},
{"g":"b7-4","d":250,"v":0.345},{"g":"b7-4","d":251.5,"v":0.355},{"g":"b7-4","d":253,"v":0.350},{"g":"b7-4","d":255,"v":0.340},{"g":"b7-4","d":256.2,"v":0.335},
{"g":"b7-5","d":250,"v":0.340},{"g":"b7-5","d":251.5,"v":0.345},{"g":"b7-5","d":253,"v":0.338},{"g":"b7-5","d":255,"v":0.330},{"g":"b7-5","d":256.2,"v":0.325},
{"g":"b7-6","d":250,"v":0.365},{"g":"b7-6","d":251,"v":0.400},{"g":"b7-6","d":252.5,"v":0.410},{"g":"b7-6","d":254,"v":0.405},{"g":"b7-6","d":256.2,"v":0.395},

{"g":"c1-1","d":124,"v":0.372},{"g":"c1-1","d":127,"v":0.400},{"g":"c1-1","d":130,"v":0.398},{"g":"c1-1","d":133,"v":0.390},{"g":"c1-1","d":136,"v":0.385},{"g":"c1-1","d":139,"v":0.375},{"g":"c1-1","d":142,"v":0.370},{"g":"c1-1","d":145,"v":0.360},
{"g":"c1-2","d":124,"v":0.365},{"g":"c1-2","d":127,"v":0.385},{"g":"c1-2","d":130,"v":0.390},{"g":"c1-2","d":133,"v":0.378},{"g":"c1-2","d":137,"v":0.365},{"g":"c1-2","d":141,"v":0.352},{"g":"c1-2","d":145,"v":0.340},
{"g":"c1-3","d":124,"v":0.360},{"g":"c1-3","d":127,"v":0.372},{"g":"c1-3","d":130,"v":0.365},{"g":"c1-3","d":134,"v":0.350},{"g":"c1-3","d":138,"v":0.335},{"g":"c1-3","d":142,"v":0.322},{"g":"c1-3","d":145,"v":0.312},
{"g":"c1-4","d":124,"v":0.355},{"g":"c1-4","d":127,"v":0.360},{"g":"c1-4","d":131,"v":0.350},{"g":"c1-4","d":135,"v":0.335},{"g":"c1-4","d":139,"v":0.318},{"g":"c1-4","d":142,"v":0.305},{"g":"c1-4","d":145,"v":0.298},
{"g":"c1-5","d":124,"v":0.350},{"g":"c1-5","d":127,"v":0.350},{"g":"c1-5","d":131,"v":0.335},{"g":"c1-5","d":135,"v":0.318},{"g":"c1-5","d":139,"v":0.302},{"g":"c1-5","d":142,"v":0.292},{"g":"c1-5","d":145,"v":0.286},
{"g":"c1-6","d":124,"v":0.345},{"g":"c1-6","d":127,"v":0.340},{"g":"c1-6","d":131,"v":0.322},{"g":"c1-6","d":135,"v":0.305},{"g":"c1-6","d":139,"v":0.290},{"g":"c1-6","d":142,"v":0.282},{"g":"c1-6","d":145,"v":0.278},
{"g":"c1-7","d":124,"v":0.340},{"g":"c1-7","d":127,"v":0.330},{"g":"c1-7","d":131,"v":0.312},{"g":"c1-7","d":135,"v":0.296},{"g":"c1-7","d":139,"v":0.284},{"g":"c1-7","d":142,"v":0.279},{"g":"c1-7","d":145,"v":0.276},
{"g":"c1-8","d":124,"v":0.368},{"g":"c1-8","d":127,"v":0.392},{"g":"c1-8","d":129,"v":0.380},{"g":"c1-8","d":132,"v":0.395},{"g":"c1-8","d":135,"v":0.375},{"g":"c1-8","d":138,"v":0.380},{"g":"c1-8","d":141,"v":0.365},{"g":"c1-8","d":145,"v":0.350},
{"g":"c1-9","d":124,"v":0.358},{"g":"c1-9","d":128,"v":0.365},{"g":"c1-9","d":131,"v":0.375},{"g":"c1-9","d":134,"v":0.360},{"g":"c1-9","d":137,"v":0.345},{"g":"c1-9","d":141,"v":0.330},{"g":"c1-9","d":145,"v":0.322},
{"g":"c2-1","d":152,"v":0.330},{"g":"c2-1","d":154,"v":0.350},{"g":"c2-1","d":156,"v":0.360},{"g":"c2-1","d":158,"v":0.380},{"g":"c2-1","d":159,"v":0.420},{"g":"c2-1","d":161,"v":0.425},{"g":"c2-1","d":163,"v":0.430},{"g":"c2-1","d":165,"v":0.420},{"g":"c2-1","d":168,"v":0.430},{"g":"c2-1","d":170,"v":0.425},{"g":"c2-1","d":172,"v":0.445},
{"g":"c2-2","d":152,"v":0.325},{"g":"c2-2","d":155,"v":0.345},{"g":"c2-2","d":158,"v":0.360},{"g":"c2-2","d":160,"v":0.395},{"g":"c2-2","d":163,"v":0.400},{"g":"c2-2","d":166,"v":0.410},{"g":"c2-2","d":169,"v":0.400},{"g":"c2-2","d":172,"v":0.420},
{"g":"c2-3","d":152,"v":0.320},{"g":"c2-3","d":155,"v":0.340},{"g":"c2-3","d":158,"v":0.350},{"g":"c2-3","d":161,"v":0.365},{"g":"c2-3","d":164,"v":0.360},{"g":"c2-3","d":167,"v":0.355},{"g":"c2-3","d":170,"v":0.370},{"g":"c2-3","d":172,"v":0.385},
{"g":"c2-4","d":152,"v":0.315},{"g":"c2-4","d":155,"v":0.330},{"g":"c2-4","d":158,"v":0.340},{"g":"c2-4","d":161,"v":0.345},{"g":"c2-4","d":164,"v":0.335},{"g":"c2-4","d":167,"v":0.325},{"g":"c2-4","d":170,"v":0.315},{"g":"c2-4","d":172,"v":0.310},
{"g":"c2-5","d":152,"v":0.310},{"g":"c2-5","d":155,"v":0.320},{"g":"c2-5","d":158,"v":0.322},{"g":"c2-5","d":161,"v":0.315},{"g":"c2-5","d":164,"v":0.305},{"g":"c2-5","d":167,"v":0.298},{"g":"c2-5","d":170,"v":0.290},{"g":"c2-5","d":172,"v":0.286},
{"g":"c2-6","d":152,"v":0.305},{"g":"c2-6","d":155,"v":0.310},{"g":"c2-6","d":158,"v":0.305},{"g":"c2-6","d":161,"v":0.298},{"g":"c2-6","d":164,"v":0.290},{"g":"c2-6","d":167,"v":0.284},{"g":"c2-6","d":172,"v":0.279},
{"g":"c2-7","d":152,"v":0.300},{"g":"c2-7","d":155,"v":0.302},{"g":"c2-7","d":158,"v":0.295},{"g":"c2-7","d":161,"v":0.288},{"g":"c2-7","d":165,"v":0.282},{"g":"c2-7","d":169,"v":0.278},{"g":"c2-7","d":172,"v":0.277},
{"g":"c2-8","d":152,"v":0.335},{"g":"c2-8","d":154,"v":0.355},{"g":"c2-8","d":157,"v":0.352},{"g":"c2-8","d":160,"v":0.360},{"g":"c2-8","d":163,"v":0.375},{"g":"c2-8","d":166,"v":0.365},{"g":"c2-8","d":169,"v":0.350},{"g":"c2-8","d":172,"v":0.340},
{"g":"c2-9","d":152,"v":0.318},{"g":"c2-9","d":155,"v":0.335},{"g":"c2-9","d":158,"v":0.345},{"g":"c2-9","d":161,"v":0.355},{"g":"c2-9","d":164,"v":0.350},{"g":"c2-9","d":167,"v":0.362},{"g":"c2-9","d":170,"v":0.352},{"g":"c2-9","d":172,"v":0.345},
{"g":"c3-1","d":180,"v":0.290},{"g":"c3-1","d":182,"v":0.330},{"g":"c3-1","d":184,"v":0.350},{"g":"c3-1","d":186,"v":0.360},{"g":"c3-1","d":188,"v":0.385},{"g":"c3-1","d":190,"v":0.398},{"g":"c3-1","d":192,"v":0.395},{"g":"c3-1","d":194,"v":0.385},{"g":"c3-1","d":196,"v":0.372},{"g":"c3-1","d":198,"v":0.365},{"g":"c3-1","d":201,"v":0.355},
{"g":"c3-2","d":180,"v":0.285},{"g":"c3-2","d":182,"v":0.315},{"g":"c3-2","d":185,"v":0.330},{"g":"c3-2","d":188,"v":0.345},{"g":"c3-2","d":190,"v":0.380},{"g":"c3-2","d":192,"v":0.375},{"g":"c3-2","d":195,"v":0.360},{"g":"c3-2","d":198,"v":0.352},{"g":"c3-2","d":201,"v":0.340},
{"g":"c3-3","d":180,"v":0.283},{"g":"c3-3","d":183,"v":0.305},{"g":"c3-3","d":186,"v":0.318},{"g":"c3-3","d":189,"v":0.325},{"g":"c3-3","d":192,"v":0.322},{"g":"c3-3","d":195,"v":0.315},{"g":"c3-3","d":198,"v":0.308},{"g":"c3-3","d":201,"v":0.300},
{"g":"c3-4","d":180,"v":0.280},{"g":"c3-4","d":183,"v":0.295},{"g":"c3-4","d":186,"v":0.305},{"g":"c3-4","d":189,"v":0.305},{"g":"c3-4","d":192,"v":0.300},{"g":"c3-4","d":195,"v":0.292},{"g":"c3-4","d":198,"v":0.286},{"g":"c3-4","d":201,"v":0.282},
{"g":"c3-5","d":180,"v":0.278},{"g":"c3-5","d":183,"v":0.286},{"g":"c3-5","d":186,"v":0.292},{"g":"c3-5","d":189,"v":0.290},{"g":"c3-5","d":192,"v":0.286},{"g":"c3-5","d":195,"v":0.282},{"g":"c3-5","d":198,"v":0.279},{"g":"c3-5","d":201,"v":0.278},
{"g":"c3-6","d":180,"v":0.276},{"g":"c3-6","d":184,"v":0.280},{"g":"c3-6","d":188,"v":0.282},{"g":"c3-6","d":192,"v":0.279},{"g":"c3-6","d":196,"v":0.277},{"g":"c3-6","d":201,"v":0.276},
{"g":"c3-7","d":180,"v":0.288},{"g":"c3-7","d":182,"v":0.310},{"g":"c3-7","d":185,"v":0.322},{"g":"c3-7","d":187,"v":0.345},{"g":"c3-7","d":189,"v":0.350},{"g":"c3-7","d":192,"v":0.340},{"g":"c3-7","d":195,"v":0.330},{"g":"c3-7","d":198,"v":0.318},{"g":"c3-7","d":201,"v":0.310},
{"g":"c3-8","d":180,"v":0.282},{"g":"c3-8","d":183,"v":0.300},{"g":"c3-8","d":186,"v":0.310},{"g":"c3-8","d":189,"v":0.318},{"g":"c3-8","d":192,"v":0.312},{"g":"c3-8","d":195,"v":0.305},{"g":"c3-8","d":198,"v":0.298},{"g":"c3-8","d":201,"v":0.290},
{"g":"c3-9","d":180,"v":0.279},{"g":"c3-9","d":184,"v":0.290},{"g":"c3-9","d":188,"v":0.300},{"g":"c3-9","d":191,"v":0.310},{"g":"c3-9","d":194,"v":0.302},{"g":"c3-9","d":197,"v":0.292},{"g":"c3-9","d":201,"v":0.285},
{"g":"c4-1","d":208,"v":0.345},{"g":"c4-1","d":210,"v":0.370},{"g":"c4-1","d":212,"v":0.378},{"g":"c4-1","d":214,"v":0.372},{"g":"c4-1","d":217,"v":0.380},{"g":"c4-1","d":220,"v":0.390},{"g":"c4-1","d":222,"v":0.410},{"g":"c4-1","d":224,"v":0.420},{"g":"c4-1","d":225,"v":0.448},{"g":"c4-1","d":227,"v":0.420},{"g":"c4-1","d":229,"v":0.410},
{"g":"c4-2","d":208,"v":0.340},{"g":"c4-2","d":210,"v":0.365},{"g":"c4-2","d":213,"v":0.372},{"g":"c4-2","d":216,"v":0.365},{"g":"c4-2","d":219,"v":0.375},{"g":"c4-2","d":222,"v":0.385},{"g":"c4-2","d":225,"v":0.370},{"g":"c4-2","d":229,"v":0.365},
{"g":"c4-3","d":208,"v":0.335},{"g":"c4-3","d":210,"v":0.350},{"g":"c4-3","d":213,"v":0.355},{"g":"c4-3","d":216,"v":0.348},{"g":"c4-3","d":219,"v":0.340},{"g":"c4-3","d":222,"v":0.352},{"g":"c4-3","d":225,"v":0.345},{"g":"c4-3","d":229,"v":0.335},
{"g":"c4-4","d":208,"v":0.330},{"g":"c4-4","d":211,"v":0.340},{"g":"c4-4","d":214,"v":0.338},{"g":"c4-4","d":217,"v":0.328},{"g":"c4-4","d":220,"v":0.318},{"g":"c4-4","d":223,"v":0.310},{"g":"c4-4","d":226,"v":0.302},{"g":"c4-4","d":229,"v":0.295},
{"g":"c4-5","d":208,"v":0.325},{"g":"c4-5","d":211,"v":0.330},{"g":"c4-5","d":214,"v":0.322},{"g":"c4-5","d":217,"v":0.310},{"g":"c4-5","d":220,"v":0.300},{"g":"c4-5","d":223,"v":0.292},{"g":"c4-5","d":226,"v":0.286},{"g":"c4-5","d":229,"v":0.282},
{"g":"c4-6","d":208,"v":0.318},{"g":"c4-6","d":211,"v":0.320},{"g":"c4-6","d":214,"v":0.310},{"g":"c4-6","d":217,"v":0.298},{"g":"c4-6","d":220,"v":0.290},{"g":"c4-6","d":223,"v":0.284},{"g":"c4-6","d":229,"v":0.279},
{"g":"c4-7","d":208,"v":0.310},{"g":"c4-7","d":211,"v":0.308},{"g":"c4-7","d":214,"v":0.298},{"g":"c4-7","d":217,"v":0.288},{"g":"c4-7","d":221,"v":0.282},{"g":"c4-7","d":225,"v":0.279},{"g":"c4-7","d":229,"v":0.278},
{"g":"c4-8","d":208,"v":0.338},{"g":"c4-8","d":210,"v":0.358},{"g":"c4-8","d":212,"v":0.365},{"g":"c4-8","d":215,"v":0.360},{"g":"c4-8","d":218,"v":0.350},{"g":"c4-8","d":221,"v":0.342},{"g":"c4-8","d":224,"v":0.335},{"g":"c4-8","d":227,"v":0.328},{"g":"c4-8","d":229,"v":0.325},
{"g":"c4-9","d":208,"v":0.328},{"g":"c4-9","d":211,"v":0.345},{"g":"c4-9","d":214,"v":0.352},{"g":"c4-9","d":217,"v":0.345},{"g":"c4-9","d":220,"v":0.335},{"g":"c4-9","d":223,"v":0.328},{"g":"c4-9","d":226,"v":0.320},{"g":"c4-9","d":229,"v":0.315},
{"g":"c5-1","d":236,"v":0.290},{"g":"c5-1","d":238,"v":0.350},{"g":"c5-1","d":240,"v":0.390},{"g":"c5-1","d":242,"v":0.410},{"g":"c5-1","d":244,"v":0.425},{"g":"c5-1","d":246,"v":0.460},{"g":"c5-1","d":248,"v":0.465},{"g":"c5-1","d":250,"v":0.470},{"g":"c5-1","d":252,"v":0.468},{"g":"c5-1","d":254,"v":0.475},{"g":"c5-1","d":256.2,"v":0.480},
{"g":"c5-2","d":236,"v":0.288},{"g":"c5-2","d":238,"v":0.330},{"g":"c5-2","d":240,"v":0.365},{"g":"c5-2","d":243,"v":0.385},{"g":"c5-2","d":246,"v":0.400},{"g":"c5-2","d":249,"v":0.420},{"g":"c5-2","d":252,"v":0.430},{"g":"c5-2","d":254,"v":0.425},{"g":"c5-2","d":256.2,"v":0.435},
{"g":"c5-3","d":236,"v":0.286},{"g":"c5-3","d":238,"v":0.315},{"g":"c5-3","d":241,"v":0.340},{"g":"c5-3","d":244,"v":0.360},{"g":"c5-3","d":247,"v":0.375},{"g":"c5-3","d":250,"v":0.390},{"g":"c5-3","d":253,"v":0.400},{"g":"c5-3","d":256.2,"v":0.405},
{"g":"c5-4","d":236,"v":0.284},{"g":"c5-4","d":239,"v":0.300},{"g":"c5-4","d":242,"v":0.320},{"g":"c5-4","d":245,"v":0.335},{"g":"c5-4","d":248,"v":0.345},{"g":"c5-4","d":251,"v":0.355},{"g":"c5-4","d":254,"v":0.360},{"g":"c5-4","d":256.2,"v":0.365},
{"g":"c5-5","d":236,"v":0.283},{"g":"c5-5","d":239,"v":0.292},{"g":"c5-5","d":242,"v":0.305},{"g":"c5-5","d":245,"v":0.315},{"g":"c5-5","d":248,"v":0.320},{"g":"c5-5","d":251,"v":0.318},{"g":"c5-5","d":254,"v":0.325},{"g":"c5-5","d":256.2,"v":0.330},
{"g":"c5-6","d":236,"v":0.282},{"g":"c5-6","d":240,"v":0.286},{"g":"c5-6","d":244,"v":0.295},{"g":"c5-6","d":248,"v":0.300},{"g":"c5-6","d":252,"v":0.298},{"g":"c5-6","d":256.2,"v":0.300},
{"g":"c5-7","d":236,"v":0.280},{"g":"c5-7","d":240,"v":0.282},{"g":"c5-7","d":244,"v":0.284},{"g":"c5-7","d":248,"v":0.283},{"g":"c5-7","d":252,"v":0.280},{"g":"c5-7","d":256.2,"v":0.279},
{"g":"c5-8","d":236,"v":0.295},{"g":"c5-8","d":238,"v":0.340},{"g":"c5-8","d":240,"v":0.380},{"g":"c5-8","d":242,"v":0.395},{"g":"c5-8","d":245,"v":0.390},{"g":"c5-8","d":248,"v":0.402},{"g":"c5-8","d":251,"v":0.410},{"g":"c5-8","d":254,"v":0.420},{"g":"c5-8","d":256.2,"v":0.415},
{"g":"c5-9","d":236,"v":0.285},{"g":"c5-9","d":239,"v":0.310},{"g":"c5-9","d":242,"v":0.345},{"g":"c5-9","d":245,"v":0.355},{"g":"c5-9","d":248,"v":0.365},{"g":"c5-9","d":251,"v":0.372},{"g":"c5-9","d":254,"v":0.380},{"g":"c5-9","d":256.2,"v":0.382},

{"g":"d1-1","d":124,"v":0.375},{"g":"d1-1","d":126,"v":0.400},{"g":"d1-1","d":129,"v":0.395},{"g":"d1-1","d":132,"v":0.400},{"g":"d1-1","d":135,"v":0.392},{"g":"d1-1","d":138,"v":0.385},{"g":"d1-1","d":141,"v":0.378},{"g":"d1-1","d":144,"v":0.370},{"g":"d1-1","d":147,"v":0.360},{"g":"d1-1","d":150,"v":0.350},{"g":"d1-1","d":153,"v":0.340},{"g":"d1-1","d":155,"v":0.335},
{"g":"d1-2","d":124,"v":0.370},{"g":"d1-2","d":127,"v":0.390},{"g":"d1-2","d":130,"v":0.385},{"g":"d1-2","d":134,"v":0.382},{"g":"d1-2","d":138,"v":0.370},{"g":"d1-2","d":142,"v":0.358},{"g":"d1-2","d":146,"v":0.345},{"g":"d1-2","d":150,"v":0.332},{"g":"d1-2","d":155,"v":0.320},
{"g":"d1-3","d":124,"v":0.365},{"g":"d1-3","d":127,"v":0.380},{"g":"d1-3","d":131,"v":0.372},{"g":"d1-3","d":135,"v":0.360},{"g":"d1-3","d":139,"v":0.345},{"g":"d1-3","d":143,"v":0.330},{"g":"d1-3","d":147,"v":0.318},{"g":"d1-3","d":151,"v":0.305},{"g":"d1-3","d":155,"v":0.296},
{"g":"d1-4","d":124,"v":0.360},{"g":"d1-4","d":127,"v":0.368},{"g":"d1-4","d":131,"v":0.358},{"g":"d1-4","d":135,"v":0.345},{"g":"d1-4","d":139,"v":0.330},{"g":"d1-4","d":143,"v":0.315},{"g":"d1-4","d":147,"v":0.302},{"g":"d1-4","d":151,"v":0.292},{"g":"d1-4","d":155,"v":0.286},
{"g":"d1-5","d":124,"v":0.355},{"g":"d1-5","d":127,"v":0.355},{"g":"d1-5","d":131,"v":0.342},{"g":"d1-5","d":135,"v":0.328},{"g":"d1-5","d":139,"v":0.312},{"g":"d1-5","d":143,"v":0.298},{"g":"d1-5","d":147,"v":0.288},{"g":"d1-5","d":151,"v":0.282},{"g":"d1-5","d":155,"v":0.278},
{"g":"d1-6","d":124,"v":0.350},{"g":"d1-6","d":127,"v":0.345},{"g":"d1-6","d":131,"v":0.330},{"g":"d1-6","d":135,"v":0.312},{"g":"d1-6","d":139,"v":0.298},{"g":"d1-6","d":143,"v":0.287},{"g":"d1-6","d":147,"v":0.280},{"g":"d1-6","d":151,"v":0.277},{"g":"d1-6","d":155,"v":0.276},
{"g":"d1-7","d":124,"v":0.345},{"g":"d1-7","d":127,"v":0.338},{"g":"d1-7","d":131,"v":0.320},{"g":"d1-7","d":135,"v":0.302},{"g":"d1-7","d":139,"v":0.288},{"g":"d1-7","d":143,"v":0.280},{"g":"d1-7","d":147,"v":0.277},{"g":"d1-7","d":150,"v":0.276},
{"g":"d1-8","d":124,"v":0.368},{"g":"d1-8","d":126,"v":0.395},{"g":"d1-8","d":129,"v":0.390},{"g":"d1-8","d":132,"v":0.385},{"g":"d1-8","d":135,"v":0.395},{"g":"d1-8","d":138,"v":0.390},{"g":"d1-8","d":141,"v":0.380},{"g":"d1-8","d":144,"v":0.385},{"g":"d1-8","d":147,"v":0.372},{"g":"d1-8","d":150,"v":0.365},{"g":"d1-8","d":153,"v":0.355},{"g":"d1-8","d":155,"v":0.350},
{"g":"d1-9","d":124,"v":0.358},{"g":"d1-9","d":127,"v":0.372},{"g":"d1-9","d":130,"v":0.380},{"g":"d1-9","d":133,"v":0.370},{"g":"d1-9","d":136,"v":0.360},{"g":"d1-9","d":140,"v":0.352},{"g":"d1-9","d":144,"v":0.340},{"g":"d1-9","d":148,"v":0.328},{"g":"d1-9","d":152,"v":0.318},{"g":"d1-9","d":155,"v":0.312},
{"g":"d1-10","d":124,"v":0.352},{"g":"d1-10","d":127,"v":0.362},{"g":"d1-10","d":130,"v":0.355},{"g":"d1-10","d":134,"v":0.342},{"g":"d1-10","d":138,"v":0.350},{"g":"d1-10","d":142,"v":0.335},{"g":"d1-10","d":146,"v":0.320},{"g":"d1-10","d":150,"v":0.310},{"g":"d1-10","d":155,"v":0.300},
{"g":"d2-1","d":159,"v":0.295},{"g":"d2-1","d":161,"v":0.330},{"g":"d2-1","d":163,"v":0.380},{"g":"d2-1","d":165,"v":0.410},{"g":"d2-1","d":167,"v":0.420},{"g":"d2-1","d":170,"v":0.430},{"g":"d2-1","d":172,"v":0.438},{"g":"d2-1","d":174,"v":0.425},{"g":"d2-1","d":176,"v":0.420},{"g":"d2-1","d":178,"v":0.410},{"g":"d2-1","d":181,"v":0.400},{"g":"d2-1","d":184,"v":0.395},{"g":"d2-1","d":187,"v":0.385},{"g":"d2-1","d":190,"v":0.380},
{"g":"d2-2","d":159,"v":0.292},{"g":"d2-2","d":162,"v":0.320},{"g":"d2-2","d":165,"v":0.360},{"g":"d2-2","d":168,"v":0.390},{"g":"d2-2","d":171,"v":0.395},{"g":"d2-2","d":174,"v":0.390},{"g":"d2-2","d":177,"v":0.380},{"g":"d2-2","d":180,"v":0.375},{"g":"d2-2","d":183,"v":0.390},{"g":"d2-2","d":185,"v":0.420},{"g":"d2-2","d":187,"v":0.432},{"g":"d2-2","d":189,"v":0.430},{"g":"d2-2","d":190,"v":0.435},
{"g":"d2-3","d":159,"v":0.290},{"g":"d2-3","d":162,"v":0.312},{"g":"d2-3","d":165,"v":0.340},{"g":"d2-3","d":168,"v":0.360},{"g":"d2-3","d":171,"v":0.370},{"g":"d2-3","d":174,"v":0.362},{"g":"d2-3","d":177,"v":0.355},{"g":"d2-3","d":180,"v":0.345},{"g":"d2-3","d":184,"v":0.335},{"g":"d2-3","d":187,"v":0.330},{"g":"d2-3","d":190,"v":0.322},
{"g":"d2-4","d":159,"v":0.288},{"g":"d2-4","d":162,"v":0.305},{"g":"d2-4","d":166,"v":0.325},{"g":"d2-4","d":170,"v":0.340},{"g":"d2-4","d":174,"v":0.338},{"g":"d2-4","d":178,"v":0.328},{"g":"d2-4","d":182,"v":0.318},{"g":"d2-4","d":186,"v":0.308},{"g":"d2-4","d":190,"v":0.300},
{"g":"d2-5","d":159,"v":0.286},{"g":"d2-5","d":162,"v":0.298},{"g":"d2-5","d":166,"v":0.310},{"g":"d2-5","d":170,"v":0.320},{"g":"d2-5","d":174,"v":0.315},{"g":"d2-5","d":178,"v":0.305},{"g":"d2-5","d":182,"v":0.296},{"g":"d2-5","d":186,"v":0.290},{"g":"d2-5","d":190,"v":0.285},
{"g":"d2-6","d":159,"v":0.284},{"g":"d2-6","d":163,"v":0.290},{"g":"d2-6","d":167,"v":0.298},{"g":"d2-6","d":171,"v":0.302},{"g":"d2-6","d":175,"v":0.298},{"g":"d2-6","d":179,"v":0.290},{"g":"d2-6","d":183,"v":0.284},{"g":"d2-6","d":187,"v":0.280},{"g":"d2-6","d":190,"v":0.278},
{"g":"d2-7","d":159,"v":0.282},{"g":"d2-7","d":163,"v":0.285},{"g":"d2-7","d":167,"v":0.288},{"g":"d2-7","d":171,"v":0.286},{"g":"d2-7","d":175,"v":0.282},{"g":"d2-7","d":180,"v":0.279},{"g":"d2-7","d":185,"v":0.277},{"g":"d2-7","d":190,"v":0.276},
{"g":"d2-8","d":159,"v":0.300},{"g":"d2-8","d":161,"v":0.325},{"g":"d2-8","d":164,"v":0.350},{"g":"d2-8","d":167,"v":0.365},{"g":"d2-8","d":170,"v":0.360},{"g":"d2-8","d":173,"v":0.375},{"g":"d2-8","d":176,"v":0.385},{"g":"d2-8","d":179,"v":0.398},{"g":"d2-8","d":182,"v":0.380},{"g":"d2-8","d":185,"v":0.372},{"g":"d2-8","d":188,"v":0.365},{"g":"d2-8","d":190,"v":0.360},
{"g":"d2-9","d":159,"v":0.294},{"g":"d2-9","d":162,"v":0.315},{"g":"d2-9","d":165,"v":0.330},{"g":"d2-9","d":168,"v":0.345},{"g":"d2-9","d":171,"v":0.352},{"g":"d2-9","d":174,"v":0.348},{"g":"d2-9","d":177,"v":0.340},{"g":"d2-9","d":180,"v":0.350},{"g":"d2-9","d":183,"v":0.345},{"g":"d2-9","d":186,"v":0.335},{"g":"d2-9","d":190,"v":0.325},
{"g":"d2-10","d":159,"v":0.287},{"g":"d2-10","d":162,"v":0.300},{"g":"d2-10","d":165,"v":0.318},{"g":"d2-10","d":168,"v":0.330},{"g":"d2-10","d":172,"v":0.328},{"g":"d2-10","d":176,"v":0.320},{"g":"d2-10","d":180,"v":0.312},{"g":"d2-10","d":184,"v":0.320},{"g":"d2-10","d":187,"v":0.315},{"g":"d2-10","d":190,"v":0.305},
{"g":"d3-1","d":194,"v":0.295},{"g":"d3-1","d":196,"v":0.330},{"g":"d3-1","d":198,"v":0.370},{"g":"d3-1","d":200,"v":0.395},{"g":"d3-1","d":202,"v":0.405},{"g":"d3-1","d":205,"v":0.420},{"g":"d3-1","d":208,"v":0.435},{"g":"d3-1","d":211,"v":0.440},{"g":"d3-1","d":213,"v":0.450},{"g":"d3-1","d":215,"v":0.440},{"g":"d3-1","d":218,"v":0.430},{"g":"d3-1","d":221,"v":0.425},{"g":"d3-1","d":223,"v":0.445},{"g":"d3-1","d":224.5,"v":0.460},{"g":"d3-1","d":225,"v":0.488},
{"g":"d3-2","d":194,"v":0.292},{"g":"d3-2","d":197,"v":0.325},{"g":"d3-2","d":200,"v":0.360},{"g":"d3-2","d":203,"v":0.385},{"g":"d3-2","d":206,"v":0.400},{"g":"d3-2","d":209,"v":0.405},{"g":"d3-2","d":212,"v":0.410},{"g":"d3-2","d":215,"v":0.420},{"g":"d3-2","d":218,"v":0.410},{"g":"d3-2","d":221,"v":0.400},{"g":"d3-2","d":223,"v":0.425},{"g":"d3-2","d":225,"v":0.430},
{"g":"d3-3","d":194,"v":0.290},{"g":"d3-3","d":197,"v":0.318},{"g":"d3-3","d":200,"v":0.345},{"g":"d3-3","d":203,"v":0.360},{"g":"d3-3","d":206,"v":0.372},{"g":"d3-3","d":209,"v":0.380},{"g":"d3-3","d":212,"v":0.378},{"g":"d3-3","d":215,"v":0.385},{"g":"d3-3","d":218,"v":0.375},{"g":"d3-3","d":221,"v":0.368},{"g":"d3-3","d":225,"v":0.360},
{"g":"d3-4","d":194,"v":0.288},{"g":"d3-4","d":197,"v":0.310},{"g":"d3-4","d":200,"v":0.330},{"g":"d3-4","d":203,"v":0.345},{"g":"d3-4","d":206,"v":0.352},{"g":"d3-4","d":209,"v":0.350},{"g":"d3-4","d":212,"v":0.342},{"g":"d3-4","d":215,"v":0.338},{"g":"d3-4","d":218,"v":0.330},{"g":"d3-4","d":221,"v":0.322},{"g":"d3-4","d":225,"v":0.315},
{"g":"d3-5","d":194,"v":0.286},{"g":"d3-5","d":197,"v":0.300},{"g":"d3-5","d":200,"v":0.315},{"g":"d3-5","d":203,"v":0.325},{"g":"d3-5","d":206,"v":0.330},{"g":"d3-5","d":209,"v":0.328},{"g":"d3-5","d":212,"v":0.320},{"g":"d3-5","d":215,"v":0.312},{"g":"d3-5","d":218,"v":0.305},{"g":"d3-5","d":221,"v":0.298},{"g":"d3-5","d":225,"v":0.292},
{"g":"d3-6","d":194,"v":0.284},{"g":"d3-6","d":197,"v":0.292},{"g":"d3-6","d":200,"v":0.302},{"g":"d3-6","d":203,"v":0.310},{"g":"d3-6","d":206,"v":0.312},{"g":"d3-6","d":209,"v":0.308},{"g":"d3-6","d":212,"v":0.300},{"g":"d3-6","d":216,"v":0.292},{"g":"d3-6","d":220,"v":0.286},{"g":"d3-6","d":225,"v":0.281},
{"g":"d3-7","d":194,"v":0.282},{"g":"d3-7","d":198,"v":0.286},{"g":"d3-7","d":202,"v":0.292},{"g":"d3-7","d":206,"v":0.295},{"g":"d3-7","d":210,"v":0.290},{"g":"d3-7","d":214,"v":0.285},{"g":"d3-7","d":218,"v":0.281},{"g":"d3-7","d":225,"v":0.278},
{"g":"d3-8","d":194,"v":0.298},{"g":"d3-8","d":196,"v":0.340},{"g":"d3-8","d":199,"v":0.380},{"g":"d3-8","d":202,"v":0.390},{"g":"d3-8","d":205,"v":0.380},{"g":"d3-8","d":208,"v":0.395},{"g":"d3-8","d":211,"v":0.410},{"g":"d3-8","d":214,"v":0.400},{"g":"d3-8","d":217,"v":0.390},{"g":"d3-8","d":220,"v":0.380},{"g":"d3-8","d":223,"v":0.372},{"g":"d3-8","d":225,"v":0.370},
{"g":"d3-9","d":194,"v":0.293},{"g":"d3-9","d":197,"v":0.322},{"g":"d3-9","d":200,"v":0.340},{"g":"d3-9","d":203,"v":0.355},{"g":"d3-9","d":206,"v":0.365},{"g":"d3-9","d":209,"v":0.360},{"g":"d3-9","d":212,"v":0.355},{"g":"d3-9","d":215,"v":0.365},{"g":"d3-9","d":218,"v":0.358},{"g":"d3-9","d":221,"v":0.348},{"g":"d3-9","d":225,"v":0.338},
{"g":"d3-10","d":194,"v":0.289},{"g":"d3-10","d":197,"v":0.305},{"g":"d3-10","d":200,"v":0.322},{"g":"d3-10","d":203,"v":0.335},{"g":"d3-10","d":206,"v":0.340},{"g":"d3-10","d":209,"v":0.338},{"g":"d3-10","d":212,"v":0.330},{"g":"d3-10","d":215,"v":0.322},{"g":"d3-10","d":218,"v":0.318},{"g":"d3-10","d":221,"v":0.310},{"g":"d3-10","d":225,"v":0.302},
{"g":"d4-1","d":229,"v":0.300},{"g":"d4-1","d":231,"v":0.340},{"g":"d4-1","d":233,"v":0.360},{"g":"d4-1","d":236,"v":0.368},{"g":"d4-1","d":239,"v":0.372},{"g":"d4-1","d":242,"v":0.380},{"g":"d4-1","d":245,"v":0.390},{"g":"d4-1","d":248,"v":0.395},{"g":"d4-1","d":251,"v":0.390},{"g":"d4-1","d":254,"v":0.385},{"g":"d4-1","d":256.2,"v":0.382},
{"g":"d4-2","d":229,"v":0.298},{"g":"d4-2","d":231,"v":0.330},{"g":"d4-2","d":234,"v":0.350},{"g":"d4-2","d":237,"v":0.355},{"g":"d4-2","d":240,"v":0.352},{"g":"d4-2","d":243,"v":0.362},{"g":"d4-2","d":246,"v":0.370},{"g":"d4-2","d":249,"v":0.365},{"g":"d4-2","d":252,"v":0.372},{"g":"d4-2","d":256.2,"v":0.368},
{"g":"d4-3","d":229,"v":0.295},{"g":"d4-3","d":232,"v":0.320},{"g":"d4-3","d":235,"v":0.335},{"g":"d4-3","d":238,"v":0.338},{"g":"d4-3","d":241,"v":0.332},{"g":"d4-3","d":244,"v":0.340},{"g":"d4-3","d":247,"v":0.348},{"g":"d4-3","d":250,"v":0.342},{"g":"d4-3","d":253,"v":0.350},{"g":"d4-3","d":256.2,"v":0.352},
{"g":"d4-4","d":229,"v":0.292},{"g":"d4-4","d":232,"v":0.310},{"g":"d4-4","d":235,"v":0.320},{"g":"d4-4","d":238,"v":0.322},{"g":"d4-4","d":241,"v":0.318},{"g":"d4-4","d":244,"v":0.322},{"g":"d4-4","d":247,"v":0.330},{"g":"d4-4","d":250,"v":0.325},{"g":"d4-4","d":253,"v":0.332},{"g":"d4-4","d":256.2,"v":0.335},
{"g":"d4-5","d":229,"v":0.290},{"g":"d4-5","d":232,"v":0.302},{"g":"d4-5","d":235,"v":0.310},{"g":"d4-5","d":238,"v":0.308},{"g":"d4-5","d":241,"v":0.302},{"g":"d4-5","d":244,"v":0.308},{"g":"d4-5","d":247,"v":0.312},{"g":"d4-5","d":250,"v":0.310},{"g":"d4-5","d":253,"v":0.315},{"g":"d4-5","d":256.2,"v":0.318},
{"g":"d4-6","d":229,"v":0.287},{"g":"d4-6","d":232,"v":0.294},{"g":"d4-6","d":235,"v":0.298},{"g":"d4-6","d":238,"v":0.296},{"g":"d4-6","d":241,"v":0.292},{"g":"d4-6","d":244,"v":0.296},{"g":"d4-6","d":247,"v":0.298},{"g":"d4-6","d":250,"v":0.296},{"g":"d4-6","d":253,"v":0.300},{"g":"d4-6","d":256.2,"v":0.302},
{"g":"d4-7","d":229,"v":0.284},{"g":"d4-7","d":233,"v":0.288},{"g":"d4-7","d":237,"v":0.286},{"g":"d4-7","d":241,"v":0.283},{"g":"d4-7","d":245,"v":0.285},{"g":"d4-7","d":249,"v":0.284},{"g":"d4-7","d":253,"v":0.286},{"g":"d4-7","d":256.2,"v":0.288},
{"g":"d4-8","d":229,"v":0.305},{"g":"d4-8","d":231,"v":0.345},{"g":"d4-8","d":233,"v":0.372},{"g":"d4-8","d":235,"v":0.375},{"g":"d4-8","d":238,"v":0.365},{"g":"d4-8","d":241,"v":0.360},{"g":"d4-8","d":244,"v":0.375},{"g":"d4-8","d":247,"v":0.385},{"g":"d4-8","d":250,"v":0.378},{"g":"d4-8","d":253,"v":0.370},{"g":"d4-8","d":256.2,"v":0.365},
{"g":"d4-9","d":229,"v":0.296},{"g":"d4-9","d":232,"v":0.325},{"g":"d4-9","d":235,"v":0.342},{"g":"d4-9","d":238,"v":0.345},{"g":"d4-9","d":241,"v":0.340},{"g":"d4-9","d":244,"v":0.350},{"g":"d4-9","d":247,"v":0.358},{"g":"d4-9","d":250,"v":0.355},{"g":"d4-9","d":253,"v":0.360},{"g":"d4-9","d":256.2,"v":0.358},
{"g":"d4-10","d":229,"v":0.289},{"g":"d4-10","d":232,"v":0.305},{"g":"d4-10","d":235,"v":0.315},{"g":"d4-10","d":238,"v":0.315},{"g":"d4-10","d":241,"v":0.310},{"g":"d4-10","d":244,"v":0.315},{"g":"d4-10","d":247,"v":0.320},{"g":"d4-10","d":250,"v":0.318},{"g":"d4-10","d":253,"v":0.325},{"g":"d4-10","d":256.2,"v":0.328}
]
},
"concat": [
{"width": 390, "height": 240, "title": {"text": "(a)", "dx": -99, "offset": 27},
 "layer": [
  {"data": {"name": "ens"}, "transform": [{"filter": "substring(datum.g,0,1)=='a'"}], "mark": {"type": "line", "color": "#a0a0a0", "strokeWidth": 1.5, "clip": true},
   "encoding": {"x": {"field": "d", "type": "quantitative", "scale": {"domain": [93.8, 256.2], "nice": false, "zero": false}, "axis": {"values": [100, 150, 200, 250], "title": "Day of year"}}, "y": {"field": "v", "type": "quantitative", "scale": {"domain": [0.2613, 0.4877], "nice": false, "zero": false}, "axis": {"values": [0.30, 0.35, 0.40, 0.45], "labelExpr": "replace(format(datum.value,'.2f'),'.','·')", "title": "θ [m³/m³]"}}, "detail": {"field": "g"}}},
  {"data": {"name": "sat"}, "mark": {"type": "line", "color": "#333333", "strokeWidth": 2, "strokeDash": [9, 6]}, "encoding": {"x": {"field": "d", "type": "quantitative"}, "y": {"field": "v", "type": "quantitative"}}},
  {"data": {"name": "obs"}, "mark": {"type": "line", "color": "#1a1a1a", "strokeWidth": 2.8}, "encoding": {"x": {"field": "d", "type": "quantitative"}, "y": {"field": "v", "type": "quantitative"}}},
  {"data": {"name": "lab"}, "transform": [{"filter": "datum.p=='a'"}], "mark": {"type": "text", "align": "left", "baseline": "alphabetic", "fontSize": 21, "font": "Liberation Serif", "color": "black"}, "encoding": {"x": {"field": "d", "type": "quantitative"}, "y": {"field": "v", "type": "quantitative"}, "text": {"field": "t"}}}
 ]},
{"width": 390, "height": 240, "title": {"text": "(b)", "dx": -73, "offset": 27},
 "layer": [
  {"data": {"name": "ens"}, "transform": [{"filter": "substring(datum.g,0,1)=='b'"}], "mark": {"type": "line", "color": "#a0a0a0", "strokeWidth": 1.5, "clip": true},
   "encoding": {"x": {"field": "d", "type": "quantitative", "scale": {"domain": [93.8, 256.2], "nice": false, "zero": false}, "axis": {"values": [100, 150, 200, 250], "title": "Day of year"}}, "y": {"field": "v", "type": "quantitative", "scale": {"domain": [0.2613, 0.4877], "nice": false, "zero": false}, "axis": {"values": [0.30, 0.35, 0.40, 0.45], "labelExpr": "replace(format(datum.value,'.2f'),'.','·')", "title": "θ [m³/m³]"}}, "detail": {"field": "g"}}},
  {"data": {"name": "sat"}, "mark": {"type": "line", "color": "#333333", "strokeWidth": 2, "strokeDash": [9, 6]}, "encoding": {"x": {"field": "d", "type": "quantitative"}, "y": {"field": "v", "type": "quantitative"}}},
  {"data": {"name": "obs"}, "mark": {"type": "line", "color": "#1a1a1a", "strokeWidth": 2.8}, "encoding": {"x": {"field": "d", "type": "quantitative"}, "y": {"field": "v", "type": "quantitative"}}},
  {"data": {"name": "lab"}, "transform": [{"filter": "datum.p=='b'"}], "mark": {"type": "text", "align": "left", "baseline": "alphabetic", "fontSize": 21, "font": "Liberation Serif", "color": "black"}, "encoding": {"x": {"field": "d", "type": "quantitative"}, "y": {"field": "v", "type": "quantitative"}, "text": {"field": "t"}}}
 ]},
{"width": 390, "height": 240, "title": {"text": "(c)", "dx": -97, "offset": 22},
 "layer": [
  {"data": {"name": "ens"}, "transform": [{"filter": "substring(datum.g,0,1)=='c'"}], "mark": {"type": "line", "color": "#a0a0a0", "strokeWidth": 1.5, "clip": true},
   "encoding": {"x": {"field": "d", "type": "quantitative", "scale": {"domain": [93.8, 256.2], "nice": false, "zero": false}, "axis": {"values": [100, 150, 200, 250], "title": "Day of year"}}, "y": {"field": "v", "type": "quantitative", "scale": {"domain": [0.2613, 0.4877], "nice": false, "zero": false}, "axis": {"values": [0.30, 0.35, 0.40, 0.45], "labelExpr": "replace(format(datum.value,'.2f'),'.','·')", "title": "θ [m³/m³]"}}, "detail": {"field": "g"}}},
  {"data": {"name": "sat"}, "mark": {"type": "line", "color": "#333333", "strokeWidth": 2, "strokeDash": [9, 6]}, "encoding": {"x": {"field": "d", "type": "quantitative"}, "y": {"field": "v", "type": "quantitative"}}},
  {"data": {"name": "obs"}, "mark": {"type": "line", "color": "#1a1a1a", "strokeWidth": 2.8}, "encoding": {"x": {"field": "d", "type": "quantitative"}, "y": {"field": "v", "type": "quantitative"}}},
  {"data": {"name": "lab"}, "transform": [{"filter": "datum.p=='c'"}], "mark": {"type": "text", "align": "left", "baseline": "alphabetic", "fontSize": 21, "font": "Liberation Serif", "color": "black"}, "encoding": {"x": {"field": "d", "type": "quantitative"}, "y": {"field": "v", "type": "quantitative"}, "text": {"field": "t"}}}
 ]},
{"width": 390, "height": 240, "title": {"text": "(d)", "dx": -65, "offset": 4},
 "layer": [
  {"data": {"name": "ens"}, "transform": [{"filter": "substring(datum.g,0,1)=='d'"}], "mark": {"type": "line", "color": "#a0a0a0", "strokeWidth": 1.5, "clip": true},
   "encoding": {"x": {"field": "d", "type": "quantitative", "scale": {"domain": [93.8, 256.2], "nice": false, "zero": false}, "axis": {"values": [100, 150, 200, 250], "title": "Day of year"}}, "y": {"field": "v", "type": "quantitative", "scale": {"domain": [0.2613, 0.4877], "nice": false, "zero": false}, "axis": {"values": [0.30, 0.35, 0.40, 0.45], "labelExpr": "replace(format(datum.value,'.2f'),'.','·')", "title": "θ [m³/m³]"}}, "detail": {"field": "g"}}},
  {"data": {"name": "sat"}, "mark": {"type": "line", "color": "#333333", "strokeWidth": 2, "strokeDash": [9, 6]}, "encoding": {"x": {"field": "d", "type": "quantitative"}, "y": {"field": "v", "type": "quantitative"}}},
  {"data": {"name": "obs"}, "mark": {"type": "line", "color": "#1a1a1a", "strokeWidth": 2.8}, "encoding": {"x": {"field": "d", "type": "quantitative"}, "y": {"field": "v", "type": "quantitative"}}},
  {"data": {"name": "lab"}, "transform": [{"filter": "datum.p=='d'"}], "mark": {"type": "text", "align": "left", "baseline": "alphabetic", "fontSize": 21, "font": "Liberation Serif", "color": "black"}, "encoding": {"x": {"field": "d", "type": "quantitative"}, "y": {"field": "v", "type": "quantitative"}, "text": {"field": "t"}}}
 ]}
]
}
